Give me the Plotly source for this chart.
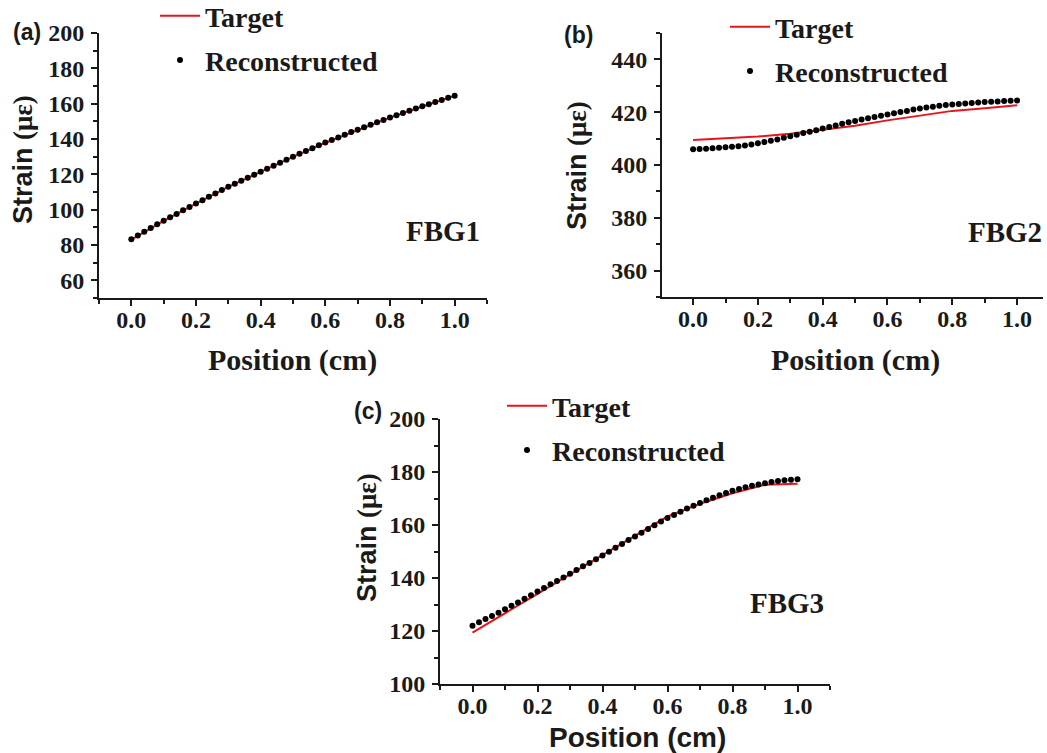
import plotly.graph_objects as go

W, H = 1047, 753

# ---------------- data ----------------
pos_target = [0.0, 0.1, 0.2, 0.3, 0.4, 0.5, 0.6, 0.7, 0.8, 0.9, 1.0]
pos_recon = [0.00, 0.02, 0.04, 0.06, 0.08, 0.10, 0.12, 0.14, 0.16, 0.18,
             0.20, 0.22, 0.24, 0.26, 0.28, 0.30, 0.32, 0.34, 0.36, 0.38,
             0.40, 0.42, 0.44, 0.46, 0.48, 0.50, 0.52, 0.54, 0.56, 0.58,
             0.60, 0.62, 0.64, 0.66, 0.68, 0.70, 0.72, 0.74, 0.76, 0.78,
             0.80, 0.82, 0.84, 0.86, 0.88, 0.90, 0.92, 0.94, 0.96, 0.98, 1.00]

fbg1_target = [83.0, 93.6, 103.4, 112.9, 121.4, 129.9, 137.9, 145.2, 152.1, 158.4, 164.4]
fbg1_recon = [83.3, 85.4, 87.5, 89.6, 91.7, 93.7, 95.7, 97.6, 99.6, 101.5,
              103.5, 105.4, 107.3, 109.2, 111.1, 113.0, 114.7, 116.4, 118.1, 119.8,
              121.5, 123.2, 124.9, 126.6, 128.3, 130.0, 131.6, 133.2, 134.8, 136.4,
              138.0, 139.5, 140.9, 142.4, 143.9, 145.3, 146.7, 148.1, 149.5, 150.8,
              152.2, 153.5, 154.7, 156.0, 157.2, 158.5, 159.7, 160.9, 162.1, 163.3, 164.5]

fbg2_target = [409.5, 410.1, 410.8, 411.8, 413.3, 414.9, 416.9, 418.8, 420.5, 421.5, 422.6]
fbg2_recon = [406.0, 406.1, 406.2, 406.3, 406.5, 406.7, 406.9, 407.1, 407.4, 407.8,
              408.2, 408.7, 409.2, 409.7, 410.3, 410.9, 411.5, 412.1, 412.6, 413.2,
              413.8, 414.4, 415.0, 415.6, 416.2, 416.7, 417.2, 417.7, 418.2, 418.7,
              419.1, 419.6, 420.1, 420.5, 421.0, 421.4, 421.8, 422.1, 422.4, 422.7,
              422.9, 423.1, 423.3, 423.5, 423.7, 423.9, 424.0, 424.1, 424.2, 424.3, 424.4]

fbg3_target = [119.4, 126.6, 134.0, 141.4, 148.7, 156.0, 163.2, 168.0, 172.0, 175.2, 175.6]
fbg3_recon = [122.0, 123.3, 124.5, 125.7, 126.9, 128.2, 129.5, 130.8, 132.2, 133.5,
              134.9, 136.2, 137.6, 138.9, 140.2, 141.6, 143.0, 144.4, 145.7, 147.1,
              148.5, 149.9, 151.4, 152.8, 154.3, 155.7, 157.1, 158.5, 159.9, 161.3,
              162.6, 163.8, 165.0, 166.2, 167.3, 168.3, 169.3, 170.3, 171.2, 172.1,
              172.9, 173.6, 174.2, 174.8, 175.3, 175.8, 176.2, 176.6, 176.9, 177.1, 177.3]

x_ticks = [0.0, 0.2, 0.4, 0.6, 0.8, 1.0]
x_ticklabels = ["0.0", "0.2", "0.4", "0.6", "0.8", "1.0"]

# ---------------- helpers ----------------
SERIF = "Liberation Serif"
SANS = "Liberation Sans"
INK = "#1a1a1a"


def px(x):
    return x / W


def py(y):
    return 1 - y / H


fig = go.Figure()

panels = [
    dict(xa="x", ya="y", leg="legend", t=fbg1_target, r=fbg1_recon),
    dict(xa="x2", ya="y2", leg="legend2", t=fbg2_target, r=fbg2_recon),
    dict(xa="x3", ya="y3", leg="legend3", t=fbg3_target, r=fbg3_recon),
]
for i, p in enumerate(panels):
    fig.add_trace(go.Scatter(
        x=pos_target, y=p["t"], mode="lines", name="Target",
        line=dict(color="#e8141c", width=2), xaxis=p["xa"], yaxis=p["ya"],
        legend=p["leg"], legendgroup=f"t{i}"))
    fig.add_trace(go.Scatter(
        x=pos_recon, y=p["r"], mode="markers", name="Reconstructed",
        marker=dict(color="black", size=6), xaxis=p["xa"], yaxis=p["ya"],
        legend=p["leg"], legendgroup=f"r{i}"))

tickfont = dict(family=SERIF, size=24, color=INK, weight="bold")


def xaxis(dom, rng, anchor):
    return dict(domain=dom, range=rng, anchor=anchor, showline=True, linecolor=INK,
                linewidth=2, showgrid=False, zeroline=False, ticks="outside",
                ticklen=6, tickwidth=1.5, tickcolor=INK, tickmode="array",
                tickvals=x_ticks, ticktext=x_ticklabels, tickfont=tickfont,
                ticklabelstandoff=-7, automargin=False,
                minor=dict(tickmode="linear", tick0=0, dtick=0.1, ticks="outside",
                           ticklen=4, tickwidth=1.5, tickcolor=INK),
                fixedrange=True)


def yaxis(dom, rng, anchor):
    return dict(domain=dom, range=rng, anchor=anchor, showline=True, linecolor=INK,
                linewidth=2, showgrid=False, zeroline=False, ticks="outside",
                ticklen=6, tickwidth=1.5, tickcolor=INK, tickmode="linear",
                tick0=0, dtick=20, tickfont=tickfont, ticklabelstandoff=2,
                automargin=False,
                minor=dict(tickmode="linear", tick0=0, dtick=10, ticks="outside",
                           ticklen=4, tickwidth=1.5, tickcolor=INK),
                fixedrange=True)


legfont = dict(family=SERIF, size=28, color=INK, weight="bold")


def legend(xpx, ypx):
    return dict(x=px(xpx), y=py(ypx), xanchor="left", yanchor="top",
                bgcolor="rgba(0,0,0,0)", font=legfont, tracegroupgap=5,
                itemwidth=40, traceorder="grouped")


fig.update_layout(
    width=W, height=H, autosize=False,
    margin=dict(l=0, r=0, t=0, b=0, autoexpand=False),
    paper_bgcolor="white", plot_bgcolor="white",
    xaxis=xaxis([px(99), px(487)], [-0.1, 1.1], "y"),
    yaxis=yaxis([py(298), py(33)], [50, 200], "x"),
    xaxis2=xaxis([px(662), px(1043)], [-0.096, 1.08], "y2"),
    yaxis2=yaxis([py(297), py(33)], [350, 450], "x2"),
    xaxis3=xaxis([px(440), px(830)], [-0.1, 1.1], "y3"),
    yaxis3=yaxis([py(684), py(419)], [100, 200], "x3"),
    legend=legend(155, -9),
    legend2=legend(725, 2),
    legend3=legend(502, 381),
)

ann = []


def text(x, y, s, fam, size, angle=0, xanchor="center"):
    ann.append(dict(x=px(x), y=py(y), xref="paper", yref="paper", text=s,
                    showarrow=False, textangle=angle, xanchor=xanchor, yanchor="middle",
                    font=dict(family=fam, size=size, color=INK, weight="bold")))


ylab = 'Strain <span style="font-family:Liberation Serif">(με)</span>'
# panel (a)
text(27, 32, "(a)", SANS, 23)
text(23, 160, ylab, SANS, 27, angle=-90)
text(292, 360, "Position (cm)", SERIF, 30)
text(443, 231, "FBG1", SERIF, 29)
# panel (b)
text(578, 35, "(b)", SANS, 23)
text(577, 166, ylab, SANS, 27, angle=-90)
text(855, 360, "Position (cm)", SERIF, 30)
text(1005, 232, "FBG2", SERIF, 29)
# panel (c)
text(368, 411, "(c)", SANS, 23)
text(367, 538, ylab, SANS, 27, angle=-90)
text(637, 737, "Position (cm)", SANS, 28)
text(787, 603, "FBG3", SERIF, 29)

fig.update_layout(annotations=ann)

fig.write_html("out.html")
